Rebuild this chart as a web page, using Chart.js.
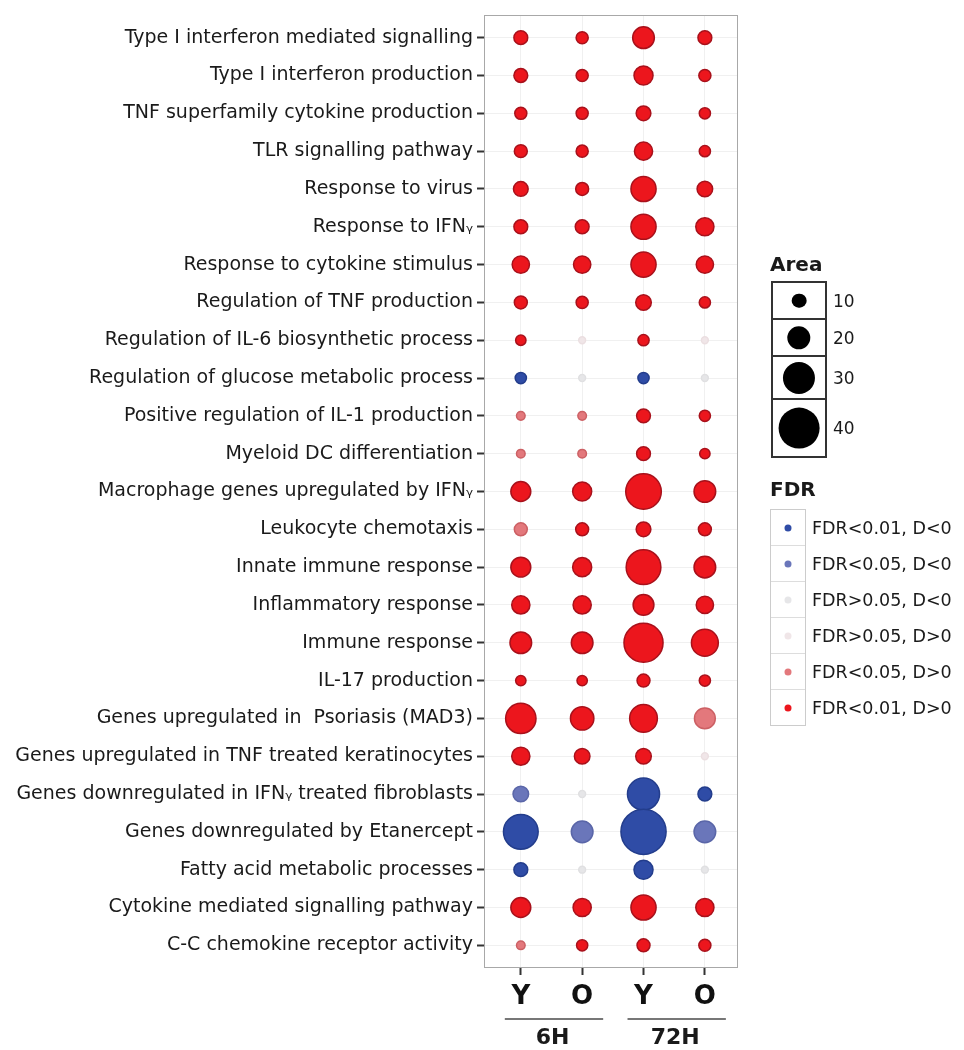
<!DOCTYPE html>
<html>
<head>
<meta charset="utf-8">
<script src="https://cdn.jsdelivr.net/npm/chart.js@4/dist/chart.umd.min.js"></script>
<style>
  body { margin: 0; background: #fff; font-family: "DejaVu Sans", sans-serif; color: #1a1a1a; }
  #wrap { position: relative; width: 964px; height: 1050px; }
  .legend-title { position: absolute; font-weight: bold; font-size: 20px; }
  .area-box { position: absolute; left: 771px; top: 281px; width: 52px; border: 2px solid #333; }
  .area-cell { position: relative; border-bottom: 2px solid #333; }
  .area-cell:last-child { border-bottom: none; }
  .dot { position: absolute; border-radius: 50%; transform: translate(-50%, -50%); left: 50%; top: 50%; }
  .area-lab { position: absolute; left: 60px; font-size: 17px; transform: translateY(-50%); top: 50%; }
  .fdr-box { position: absolute; left: 770px; top: 509px; width: 34px; border: 1px solid #ccc; }
  .fdr-cell { position: relative; height: 35px; border-bottom: 1px solid #ddd; }
  .fdr-cell:last-child { border-bottom: none; }
  .fdr-lab { position: absolute; left: 41px; font-size: 17.5px; white-space: nowrap; transform: translateY(-50%); top: 50%; }
</style>
</head>
<body>
<div id="wrap">
  <canvas id="dotplot" width="964" height="1050"></canvas>
  <div class="legend-title" style="left:770px; top:252px;">Area</div>
  <div class="area-box" id="areaLegend"></div>
  <div class="legend-title" style="left:770px; top:477px;">FDR</div>
  <div class="fdr-box" id="fdrLegend"></div>
</div>
<script>
// Términos (filas, de arriba hacia abajo)
const terminos = [
  "Type I interferon mediated signalling",
  "Type I interferon production",
  "TNF superfamily cytokine production",
  "TLR signalling pathway",
  "Response to virus",
  "Response to IFN\u1D67",
  "Response to cytokine stimulus",
  "Regulation of TNF production",
  "Regulation of IL-6 biosynthetic process",
  "Regulation of glucose metabolic process",
  "Positive regulation of IL-1 production",
  "Myeloid DC differentiation",
  "Macrophage genes upregulated by IFN\u1D67",
  "Leukocyte chemotaxis",
  "Innate immune response",
  "Inflammatory response",
  "Immune response",
  "IL-17 production",
  "Genes upregulated in  Psoriasis (MAD3)",
  "Genes upregulated in TNF treated keratinocytes",
  "Genes downregulated in IFN\u1D67 treated fibroblasts",
  "Genes downregulated by Etanercept",
  "Fatty acid metabolic processes",
  "Cytokine mediated signalling pathway",
  "C-C chemokine receptor activity"
];

// Columnas: Y/O a 6H y 72H
const columnas = ["Y", "O", "Y", "O"];
const grupos = ["6H", "72H"];

// Área de cada punto por columna
const areaY6  = [9, 9, 7, 8, 10, 9, 13, 8, 5, 6, 3, 3, 16, 8, 16, 14, 18, 5, 28, 14, 11, 33, 9, 16, 3];
const areaO6  = [7, 7, 7, 7, 8, 9, 13, 7, 1, 1, 3, 3, 15, 8, 15, 14, 18, 5, 20, 11, 1, 18, 1, 14, 6];
const areaY72 = [18, 15, 10, 14, 22, 22, 22, 11, 6, 6, 9, 9, 34, 10, 33, 17, 38, 8, 25, 11, 30, 45, 15, 22, 8];
const areaO72 = [9, 7, 6, 6, 11, 14, 13, 6, 1, 1, 6, 5, 18, 8, 18, 13, 24, 6, 17, 1, 9, 18, 1, 14, 7];

// Categoría FDR de cada punto (índice en fdrEtiquetas)
// 0: FDR<0.01 D<0, 1: FDR<0.05 D<0, 2: FDR>0.05 D<0, 3: FDR>0.05 D>0, 4: FDR<0.05 D>0, 5: FDR<0.01 D>0
const fdrY6  = [5, 5, 5, 5, 5, 5, 5, 5, 5, 0, 4, 4, 5, 4, 5, 5, 5, 5, 5, 5, 1, 0, 0, 5, 4];
const fdrO6  = [5, 5, 5, 5, 5, 5, 5, 5, 3, 2, 4, 4, 5, 5, 5, 5, 5, 5, 5, 5, 2, 1, 2, 5, 5];
const fdrY72 = [5, 5, 5, 5, 5, 5, 5, 5, 5, 0, 5, 5, 5, 5, 5, 5, 5, 5, 5, 5, 0, 0, 0, 5, 5];
const fdrO72 = [5, 5, 5, 5, 5, 5, 5, 5, 3, 2, 5, 5, 5, 5, 5, 5, 5, 5, 4, 3, 0, 1, 2, 5, 5];

const fdrEtiquetas = ["FDR<0.01, D<0", "FDR<0.05, D<0", "FDR>0.05, D<0", "FDR>0.05, D>0", "FDR<0.05, D>0", "FDR<0.01, D>0"];
const fdrRelleno = ["#2f4ca6", "#6a76ba", "#e6e6e8", "#f0e6e8", "#e3787c", "#ec161d"];
const fdrBorde   = ["#233d8c", "#5a66a8", "#e0e0e2", "#ebdfe1", "#cc6064", "#a8111b"];

const areaLeyenda = [10, 20, 30, 40];

// Diámetro en px según el área
function diametro(area) {
    return 6 + 0.87 * area;
}

const areas = [areaY6, areaO6, areaY72, areaO72];
const fdrs = [fdrY6, fdrO6, fdrY72, fdrO72];

const puntos = [];
const rellenos = [];
const bordes = [];
areas.forEach((col, j) => {
    col.forEach((a, i) => {
        puntos.push({ x: j + 1, y: i + 1, r: diametro(a) / 2 });
        rellenos.push(fdrRelleno[fdrs[j][i]]);
        bordes.push(fdrBorde[fdrs[j][i]]);
    });
});

const fuente = '"DejaVu Sans", sans-serif';

// Marco del panel y etiquetas de grupo bajo el eje X
const marcoPanel = {
    id: 'marcoPanel',
    beforeDatasetsDraw(chart) {
        const { ctx, chartArea: a } = chart;
        ctx.save();
        ctx.strokeStyle = '#a8a8a8';
        ctx.lineWidth = 1;
        ctx.strokeRect(a.left + 0.5, a.top + 0.5, a.right - a.left - 1, a.bottom - a.top - 1);
        ctx.restore();
    },
    afterDraw(chart) {
        const { ctx } = chart;
        const x = chart.scales.x;
        ctx.save();
        ctx.strokeStyle = '#777';
        ctx.lineWidth = 2;
        ctx.fillStyle = '#1a1a1a';
        ctx.font = 'bold 22px ' + fuente;
        ctx.textAlign = 'center';
        ctx.textBaseline = 'middle';
        grupos.forEach((g, k) => {
            const x1 = x.getPixelForValue(2 * k + 1);
            const x2 = x.getPixelForValue(2 * k + 2);
            ctx.beginPath();
            ctx.moveTo(x1 - 16, 1019);
            ctx.lineTo(x2 + 21, 1019);
            ctx.stroke();
            ctx.fillText(g, (x1 + x2) / 2 + 1, 1038);
        });
        ctx.restore();
    }
};

new Chart(document.getElementById('dotplot'), {
    type: 'bubble',
    data: {
        datasets: [{
            data: puntos,
            backgroundColor: rellenos,
            borderColor: bordes,
            borderWidth: 1.5
        }]
    },
    options: {
        responsive: false,
        animation: false,
        layout: { autoPadding: false, padding: { top: 15, right: 226, bottom: 0, left: 0 } },
        plugins: {
            legend: { display: false },
            tooltip: { enabled: false }
        },
        scales: {
            x: {
                type: 'linear',
                min: 0.4,
                max: 4.54,
                afterBuildTicks: s => { s.ticks = [1, 2, 3, 4].map(v => ({ value: v })); },
                afterFit: s => { s.height = 82; },
                ticks: {
                    callback: v => columnas[v - 1],
                    color: '#111',
                    padding: 7,
                    font: { family: fuente, size: 26, weight: 'bold' }
                },
                grid: { color: 'rgba(0,0,0,0.06)', tickColor: '#333', tickWidth: 2, tickLength: 7 },
                border: { display: false }
            },
            y: {
                type: 'linear',
                reverse: true,
                min: 0.4,
                max: 25.6,
                afterBuildTicks: s => { s.ticks = terminos.map((t, i) => ({ value: i + 1 })); },
                afterFit: s => { s.width = 484; s.paddingTop = 0; s.paddingBottom = 0; },
                ticks: {
                    callback: v => terminos[v - 1],
                    color: '#1a1a1a',
                    padding: 4,
                    font: { family: fuente, size: 19 }
                },
                grid: { color: 'rgba(0,0,0,0.06)', tickColor: '#333', tickWidth: 2, tickLength: 7 },
                border: { display: false }
            }
        }
    },
    plugins: [marcoPanel]
});

// --- LEYENDAS ---
const alturasArea = [35, 35, 41, 56];
const $area = document.getElementById('areaLegend');
areaLeyenda.forEach((a, k) => {
    const d = diametro(a);
    const celda = document.createElement('div');
    celda.className = 'area-cell';
    celda.style.height = alturasArea[k] + 'px';
    celda.innerHTML = `<div class="dot" style="width:${d}px;height:${d}px;background:#000"></div>
        <div class="area-lab">${a}</div>`;
    $area.appendChild(celda);
});

const $fdr = document.getElementById('fdrLegend');
fdrEtiquetas.forEach((t, k) => {
    const celda = document.createElement('div');
    celda.className = 'fdr-cell';
    celda.innerHTML = `<div class="dot" style="width:7px;height:7px;background:${fdrRelleno[k]}"></div>
        <div class="fdr-lab">${t.replace('<', '&lt;').replace('>', '&gt;')}</div>`;
    $fdr.appendChild(celda);
});
</script>
</body>
</html>
